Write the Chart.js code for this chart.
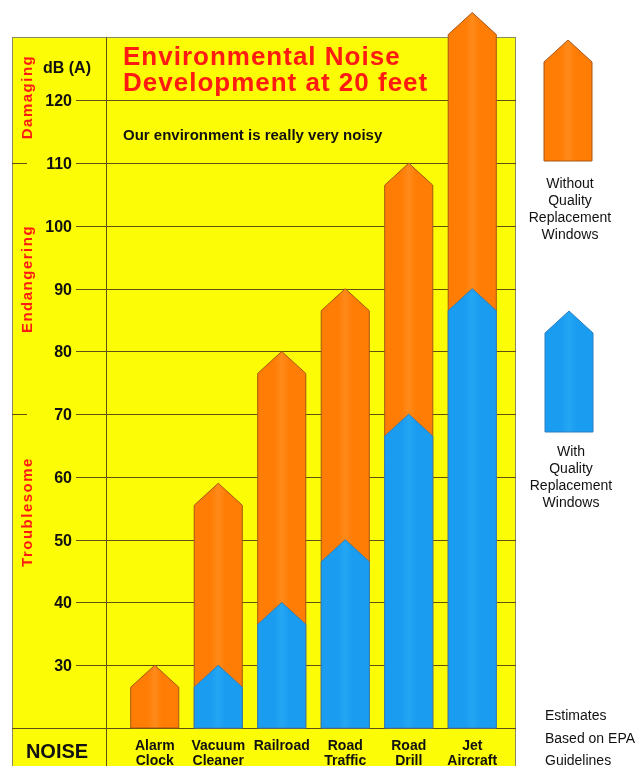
<!DOCTYPE html>
<html>
<head>
<meta charset="utf-8">
<title>Environmental Noise Development at 20 feet</title>
<script src="https://cdn.jsdelivr.net/npm/chart.js@4.4.1/dist/chart.umd.min.js"></script>
<style>
  html, body { margin: 0; padding: 0; background: #fff; }
  canvas { display: block; }
</style>
</head>
<body>
<canvas id="noiseChart" width="642" height="766"></canvas>
<script>
// values (dB(A) at the arrow tips)
const categories = [['Alarm', 'Clock'], ['Vacuum', 'Cleaner'], ['Railroad'], ['Road', 'Traffic'], ['Road', 'Drill'], ['Jet', 'Aircraft']];
const withoutWindows = [30, 59, 80, 90, 110, 134];
const withWindows = [null, 30, 40, 50, 70, 90];
const yTicks = [30, 40, 50, 60, 70, 80, 90, 100, 110, 120];
const zoneBreaks = [70, 110];
const zones = [
  { name: 'Damaging', yCenter: 97 },
  { name: 'Endangering', yCenter: 279 },
  { name: 'Troublesome', yCenter: 512 }
];
const seriesNames = [['Without', 'Quality', 'Replacement', 'Windows'], ['With', 'Quality', 'Replacement', 'Windows']];

const ORANGE = '#ff7d05';
const BLUE = '#1a9df0';
const YELLOW = '#fcfc06';
const LINE = '#5e5210';
const RED = '#ff1a12';
const FONT = '"Liberation Sans", Arial, Helvetica, sans-serif';

const TIP = 22; // height of the arrow point in px

function arrowPath(ctx, left, right, top, bottom) {
  const mid = (left + right) / 2;
  ctx.beginPath();
  ctx.moveTo(left, bottom);
  ctx.lineTo(left, top + TIP);
  ctx.lineTo(mid, top);
  ctx.lineTo(right, top + TIP);
  ctx.lineTo(right, bottom);
  ctx.closePath();
}

function fillArrow(ctx, left, right, top, bottom, fill, stroke) {
  const g = ctx.createLinearGradient(left, 0, right, 0);
  g.addColorStop(0, fill);
  g.addColorStop(0.35, fill);
  g.addColorStop(0.5, fill === ORANGE ? '#ff8a1a' : '#24a6f4');
  g.addColorStop(0.65, fill);
  g.addColorStop(1, fill);
  arrowPath(ctx, left, right, top, bottom);
  ctx.fillStyle = g;
  ctx.fill();
  ctx.lineWidth = 1;
  ctx.strokeStyle = stroke;
  ctx.stroke();
}

const posterPlugin = {
  id: 'poster',
  beforeDraw(chart) {
    const ctx = chart.ctx;
    const y = chart.scales.y;
    ctx.save();
    ctx.fillStyle = '#ffffff';
    ctx.fillRect(0, 0, chart.width, chart.height);

    // yellow panel
    const pl = 12, pr = 516, pt = 37, pb = chart.height + 2;
    ctx.fillStyle = YELLOW;
    ctx.fillRect(pl, pt, pr - pl, pb - pt);
    ctx.strokeStyle = '#8a8a60';
    ctx.lineWidth = 1;
    ctx.strokeRect(pl + 0.5, pt + 0.5, pr - pl - 1, pb - pt);

    ctx.strokeStyle = LINE;
    // vertical divider
    ctx.beginPath();
    ctx.moveTo(106.5, pt);
    ctx.lineTo(106.5, pb);
    ctx.stroke();
    // baseline of the bars
    const base = Math.round(y.getPixelForValue(y.min)) + 0.5;
    ctx.beginPath();
    ctx.moveTo(pl, base);
    ctx.lineTo(pr, base);
    ctx.stroke();

    // grid lines + tick labels
    ctx.font = 'bold 16px ' + FONT;
    ctx.fillStyle = '#111';
    ctx.textAlign = 'right';
    ctx.textBaseline = 'middle';
    yTicks.forEach(v => {
      const py = Math.round(y.getPixelForValue(v)) + 0.5;
      ctx.beginPath();
      ctx.moveTo(76, py);
      ctx.lineTo(pr, py);
      ctx.stroke();
      ctx.fillText(String(v), 72, py + 1);
    });
    // zone breaks at the left edge
    zoneBreaks.forEach(v => {
      const py = Math.round(y.getPixelForValue(v)) + 0.5;
      ctx.beginPath();
      ctx.moveTo(pl, py);
      ctx.lineTo(27, py);
      ctx.stroke();
    });

    ctx.textAlign = 'left';
    ctx.fillText('dB (A)', 43, 69);

    // zone labels
    ctx.fillStyle = RED;
    ctx.font = 'bold 15px ' + FONT;
    ctx.letterSpacing = '1.5px';
    zones.forEach(z => {
      ctx.save();
      ctx.translate(28, z.yCenter);
      ctx.rotate(-Math.PI / 2);
      ctx.textAlign = 'center';
      ctx.textBaseline = 'middle';
      ctx.fillText(z.name, 0, 0);
      ctx.restore();
    });
    ctx.letterSpacing = '0px';

    // title
    ctx.textAlign = 'left';
    ctx.textBaseline = 'alphabetic';
    ctx.font = 'bold 26px ' + FONT;
    ctx.letterSpacing = '1px';
    ctx.fillText('Environmental Noise', 123, 65);
    ctx.fillText('Development at 20 feet', 123, 91);
    ctx.letterSpacing = '0px';
    ctx.fillStyle = '#111';
    ctx.font = 'bold 15px ' + FONT;
    ctx.fillText('Our environment is really very noisy', 123, 140);

    ctx.font = 'bold 20px ' + FONT;
    ctx.textAlign = 'center';
    ctx.fillText('NOISE', 57, 758);
    ctx.restore();
  },
  beforeDatasetDraw(chart, args) {
    const ctx = chart.ctx;
    const ds = chart.data.datasets[args.index];
    const bottom = chart.chartArea.bottom;
    ctx.save();
    args.meta.data.forEach((bar, i) => {
      if (ds.data[i] == null) return;
      const p = bar.getProps(['x', 'y', 'base', 'width'], true);
      fillArrow(ctx, p.x - p.width / 2, p.x + p.width / 2, p.y, Math.min(p.base, bottom), ds.backgroundColor, ds.borderColor);
    });
    ctx.restore();
    return false;
  },
  afterDraw(chart) {
    const ctx = chart.ctx;
    const x = chart.scales.x;
    ctx.save();
    // category labels
    ctx.fillStyle = '#111';
    ctx.font = 'bold 14px ' + FONT;
    ctx.textAlign = 'center';
    ctx.textBaseline = 'alphabetic';
    categories.forEach((lines, i) => {
      const px = x.getPixelForValue(i);
      lines.forEach((t, j) => ctx.fillText(t, px, 750 + j * 15));
    });

    // legend arrows
    const ds = chart.data.datasets;
    const legendBoxes = [
      { set: 1, left: 544, right: 592, top: 40, bottom: 161, textY: 188 },
      { set: 0, left: 545, right: 593, top: 311, bottom: 432, textY: 456 }
    ];
    ctx.font = '14px ' + FONT;
    legendBoxes.forEach((b, k) => {
      const d = ds[b.set];
      fillArrow(ctx, b.left, b.right, b.top, b.bottom, d.backgroundColor, d.borderColor);
      ctx.fillStyle = '#111';
      seriesNames[k].forEach((t, j) => ctx.fillText(t, (b.left + b.right) / 2 + 2, b.textY + j * 17));
    });

    // note
    ctx.textAlign = 'left';
    ctx.font = '14px ' + FONT;
    ['Estimates', 'Based on EPA', 'Guidelines'].forEach((t, j) => ctx.fillText(t, 545, 720 + j * 22.5));
    ctx.restore();
  }
};

new Chart(document.getElementById('noiseChart'), {
  type: 'bar',
  data: {
    labels: categories,
    datasets: [
      {
        label: 'With Quality Replacement Windows',
        data: withWindows,
        backgroundColor: BLUE,
        borderColor: '#2a7fc0',
        grouped: false,
        order: 1
      },
      {
        label: 'Without Quality Replacement Windows',
        data: withoutWindows,
        backgroundColor: ORANGE,
        borderColor: '#a65414',
        grouped: false,
        order: 2
      }
    ]
  },
  options: {
    responsive: false,
    animation: false,
    layout: { padding: { left: 123, right: 138, top: 0, bottom: 38 } },
    datasets: { bar: { barPercentage: 0.757, categoryPercentage: 1 } },
    scales: {
      x: { display: false, offset: true },
      y: { display: false, min: 20, max: 136 }
    },
    plugins: {
      legend: { display: false },
      tooltip: { enabled: false }
    }
  },
  plugins: [posterPlugin]
});
</script>
</body>
</html>
